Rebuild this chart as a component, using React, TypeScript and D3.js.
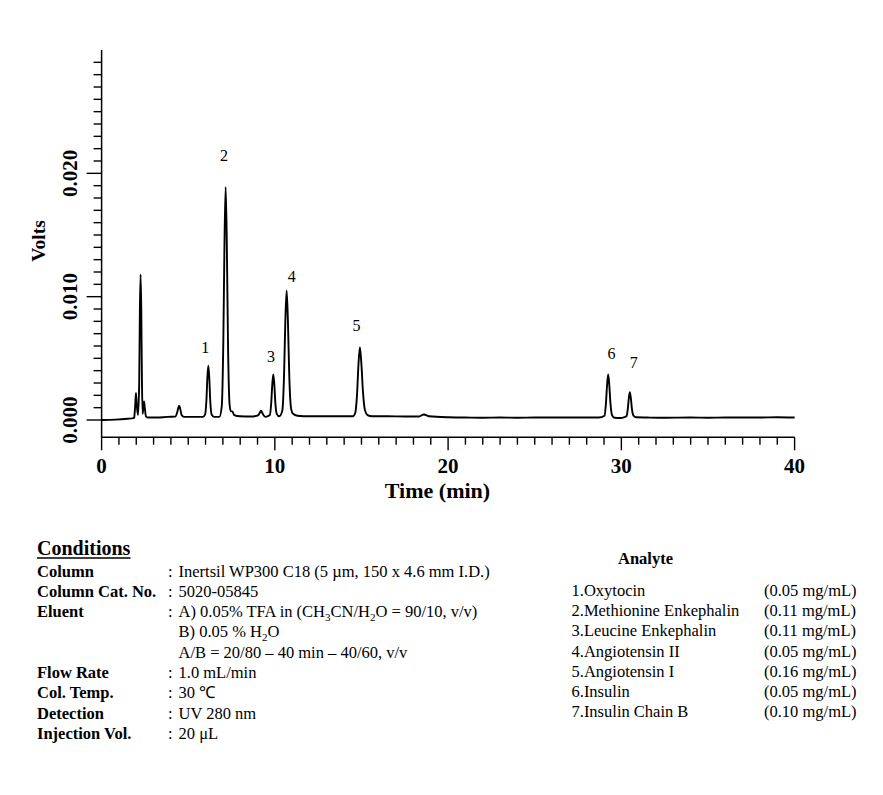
import * as d3 from 'd3'

// chromatogram trace: [time (min), volts]
const trace: [number, number][] = [
  [0, 0.0], [0.8, 0.00003], [1.5, 0.0001], [1.85, 0.00015], [1.88, 0.0002],
  [1.94, 0.0012], [1.985, 0.0022], [2.03, 0.0012], [2.1, 0.0004],
  [2.17, 0.003], [2.21, 0.009], [2.25, 0.0118], [2.29, 0.009], [2.33, 0.003],
  [2.37, 0.0005], [2.41, 0.0011], [2.45, 0.0015], [2.5, 0.0009], [2.56, 0.0003],
  [2.7, 0.0002], [3.2, 0.0002], [3.8, 0.00025], [4.25, 0.00027],
  [4.36, 0.0006], [4.43, 0.001], [4.48, 0.00116], [4.54, 0.0009], [4.62, 0.0004],
  [4.75, 0.00025], [5.3, 0.00025], [5.85, 0.00025],
  [5.97, 0.00043], [6.05, 0.0016], [6.104, 0.0034], [6.16, 0.0044], [6.216, 0.0034],
  [6.27, 0.0016], [6.35, 0.00045], [6.5, 0.00025], [6.8, 0.00025],
  [6.935, 0.0011], [7.025, 0.0063], [7.0925, 0.0143], [7.16, 0.0189], [7.2275, 0.0143],
  [7.295, 0.0063], [7.385, 0.0013], [7.46, 0.0007], [7.55, 0.0007], [7.65, 0.0004],
  [8.0, 0.0003], [8.6, 0.00028], [9.0, 0.00035],
  [9.1, 0.0005], [9.2, 0.00076], [9.3, 0.0005], [9.45, 0.00025],
  [9.71, 0.0004], [9.79, 0.00137], [9.85, 0.00285], [9.91, 0.0037], [9.97, 0.00285],
  [10.03, 0.00137], [10.11, 0.0005], [10.25, 0.0003],
  [10.43, 0.00075], [10.53, 0.0036], [10.605, 0.008], [10.68, 0.0105], [10.755, 0.008],
  [10.83, 0.0037], [10.94, 0.0009], [11.05, 0.0005], [11.3, 0.00035],
  [12.0, 0.0003], [13.0, 0.0003], [14.0, 0.0003], [14.5, 0.0003],
  [14.635, 0.00055], [14.745, 0.0021], [14.8275, 0.00453], [14.91, 0.0059], [14.9925, 0.0046],
  [15.085, 0.0023], [15.2, 0.0008], [15.35, 0.0004], [15.6, 0.0003],
  [16.5, 0.0003], [17.5, 0.00028], [18.3, 0.00028], [18.6, 0.00045], [18.9, 0.0003],
  [20, 0.00022], [21, 0.0002], [22, 0.00018], [23, 0.0002], [24, 0.00018], [25, 0.0002],
  [26, 0.0002], [27, 0.0002], [28, 0.0002], [28.7, 0.0002],
  [29.03, 0.00035], [29.11, 0.00134], [29.176, 0.00284], [29.24, 0.0037], [29.304, 0.00284],
  [29.37, 0.00138], [29.46, 0.0004], [29.6, 0.00018], [29.95, 0.00016], [30.15, 0.00022],
  [30.29, 0.0003], [30.37, 0.00087], [30.43, 0.00175], [30.49, 0.00225], [30.55, 0.00175],
  [30.61, 0.0009], [30.7, 0.00035], [30.85, 0.00022],
  [31.5, 0.0002], [32.5, 0.00018], [34, 0.0002], [35, 0.00018], [36, 0.0002],
  [37, 0.0002], [38, 0.0002], [39, 0.00022], [40, 0.0002],
]

// peak number labels: position in data units (time, volts at text baseline)
const peakIds = ['1', '2', '3', '4', '5', '6', '7']
const peakLabelT = [5.98, 7.06, 9.78, 10.97, 14.72, 29.43, 30.72]
const peakLabelV = [0.00545, 0.021, 0.00472, 0.01122, 0.00724, 0.00496, 0.00423]

const xMajorTicks = [0, 10, 20, 30, 40]
const yMajorTicks = [0, 0.01, 0.02]
const yMajorLabels = ['0.000', '0.010', '0.020']

const conditionLabels = [
  'Column', 'Column Cat. No.', 'Eluent', '', '', 'Flow Rate', 'Col. Temp.', 'Detection', 'Injection Vol.',
]
const conditionValues = [
  'Inertsil WP300 C18 (5 µm, 150 x 4.6 mm I.D.)',
  '5020-05845',
  'A) 0.05% TFA in (CH_3CN/H_2O = 90/10, v/v)',
  'B) 0.05 % H_2O',
  'A/B = 20/80 – 40 min – 40/60, v/v',
  '1.0 mL/min',
  '30 ℃',
  'UV 280 nm',
  '20 μL',
]

const analyteNames = [
  '1.Oxytocin', '2.Methionine Enkephalin', '3.Leucine Enkephalin', '4.Angiotensin II',
  '5.Angiotensin I', '6.Insulin', '7.Insulin Chain B',
]
const analyteConc = [
  '(0.05 mg/mL)', '(0.11 mg/mL)', '(0.11 mg/mL)', '(0.05 mg/mL)',
  '(0.16 mg/mL)', '(0.05 mg/mL)', '(0.10 mg/mL)',
]

const W = 883
const H = 795
const FONT = "'Liberation Serif', 'Times New Roman', serif"

// render "H_2O" style subscripts as tspans
function withSubscripts(s: string) {
  const parts = s.split(/(_\d)/)
  const out: JSX.Element[] = []
  let sub = false
  parts.forEach((p, i) => {
    if (p.startsWith('_')) {
      out.push(
        <tspan key={i} fontSize={11} dy={4}>
          {p.slice(1)}
        </tspan>,
      )
      sub = true
    } else if (p.length) {
      out.push(
        <tspan key={i} dy={sub ? -4 : 0}>
          {p}
        </tspan>,
      )
      sub = false
    }
  })
  return out
}

export default function App() {
  const x = d3.scaleLinear().domain([0, 40]).range([101.6, 794.6])
  const y = d3.scaleLinear().domain([0, 0.03]).range([420, 50])
  const yFloor = -0.0014

  const line = d3
    .line<[number, number]>()
    .x((d) => x(d[0]))
    .y((d) => y(d[1]))
    .curve(d3.curveMonotoneX)

  const xTicks = d3.range(0, 41)
  const yTicks = d3.range(0, 30).map((i) => i / 1000)
  const axisY = y(yFloor)

  const rowY0 = 576.5
  const rowStep = 20.3

  return (
    <div style={{ position: 'fixed', left: 0, top: 0 }}>
      <svg width={W} height={H} style={{ display: 'block', background: '#fff' }} fontFamily={FONT}>
        {/* axes */}
        <line x1={x(0)} x2={x(0)} y1={y(0.03)} y2={axisY} stroke="#000" strokeWidth={1.5} />
        <line x1={x(0)} x2={x(40)} y1={axisY} y2={axisY} stroke="#000" strokeWidth={1.5} />
        {yTicks.map((v, i) => (
          <line
            key={'yt' + i}
            x1={x(0)}
            x2={x(0) - (i % 10 === 0 ? 15 : 8)}
            y1={y(v)}
            y2={y(v)}
            stroke="#000"
            strokeWidth={1.4}
          />
        ))}
        {xTicks.map((t) => (
          <line
            key={'xt' + t}
            x1={x(t)}
            x2={x(t)}
            y1={axisY}
            y2={axisY + (t % 10 === 0 ? 13 : 7.5)}
            stroke="#000"
            strokeWidth={1.4}
          />
        ))}
        {xMajorTicks.map((t) => (
          <text key={'xl' + t} x={x(t)} y={473} textAnchor="middle" fontSize={21} fontWeight="bold">
            {t}
          </text>
        ))}
        {yMajorTicks.map((v, i) => (
          <text
            key={'yl' + i}
            transform={`translate(77,${y(v)}) rotate(-90)`}
            textAnchor="middle"
            fontSize={21}
            fontWeight="bold"
          >
            {yMajorLabels[i]}
          </text>
        ))}
        <text x={437.5} y={498} textAnchor="middle" fontSize={22} fontWeight="bold">
          Time (min)
        </text>
        <text transform="translate(45,241) rotate(-90)" textAnchor="middle" fontSize={19.5} fontWeight="bold">
          Volts
        </text>

        {/* trace */}
        <path d={line(trace) ?? ''} fill="none" stroke="#000" strokeWidth={1.9} strokeLinejoin="round" />

        {peakIds.map((id, i) => (
          <text key={'pk' + id} x={x(peakLabelT[i])} y={y(peakLabelV[i])} textAnchor="middle" fontSize={16}>
            {id}
          </text>
        ))}

        {/* conditions */}
        <text x={37} y={555} fontSize={20} fontWeight="bold">
          Conditions
        </text>
        <line x1={37} x2={130.5} y1={558} y2={558} stroke="#000" strokeWidth={1.3} />
        {conditionLabels.map((lab, i) => (
          <g key={'c' + i} fontSize={16.5}>
            {lab && (
              <text x={37} y={rowY0 + i * rowStep} fontWeight="bold">
                {lab}
              </text>
            )}
            {lab && (
              <text x={168} y={rowY0 + i * rowStep}>
                :
              </text>
            )}
            <text x={178.5} y={rowY0 + i * rowStep}>
              {withSubscripts(conditionValues[i])}
            </text>
          </g>
        ))}

        {/* analytes */}
        <text x={645.5} y={564} textAnchor="middle" fontSize={16.5} fontWeight="bold">
          Analyte
        </text>
        {analyteNames.map((n, i) => (
          <g key={'a' + i} fontSize={16.5}>
            <text x={571.5} y={596 + i * 20.2}>
              {n}
            </text>
            <text x={764} y={596 + i * 20.2}>
              {analyteConc[i]}
            </text>
          </g>
        ))}
      </svg>
    </div>
  )
}
